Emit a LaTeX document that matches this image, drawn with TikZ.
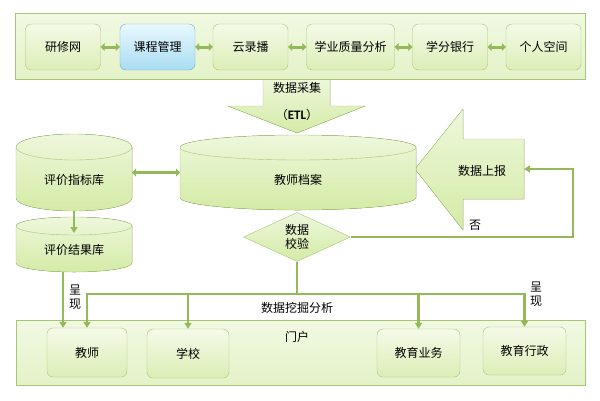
\documentclass[tikz,border=0pt]{standalone}
\usepackage{fontspec}
\newfontfamily\cjk{Noto Sans CJK SC}
\newfontfamily\lat{Carlito}
\usetikzlibrary{shapes.geometric,arrows.meta}

\definecolor{lnk}{HTML}{93B958}
\definecolor{edge}{HTML}{A6C673}
\definecolor{boxt}{HTML}{F4FAE8}
\definecolor{boxb}{HTML}{DCEEB6}
\definecolor{pant}{HTML}{F1F9E2}
\definecolor{panb}{HTML}{E4F2C8}
\definecolor{cylt}{HTML}{EEF7DC}
\definecolor{cylb}{HTML}{D4EBA6}
\definecolor{bluet}{HTML}{E8F8FE}
\definecolor{blueb}{HTML}{A9DDF2}
\definecolor{blueedge}{HTML}{5FB3D8}

\begin{document}
\begin{tikzpicture}[x=1pt,y=-1pt,
	txt/.style={font=\cjk\fontsize{12}{15}\selectfont,inner sep=1pt},
	panel/.style={draw=edge,top color=pant,bottom color=panb},
	box/.style={txt,draw=edge,rounded corners=6pt,top color=boxt,bottom color=boxb,minimum width=75,minimum height=46},
	frame/.style={inner sep=0,outer sep=0},
	blk/.style={draw=edge,top color=cylt,bottom color=cylb},
	link/.style={draw=lnk,line width=2.5pt},
	tip/.style={-{Triangle[length=6pt,width=7pt]}},
	dbl/.style={draw=lnk,line width=3pt,{Triangle[length=4pt,width=8pt]}-{Triangle[length=4pt,width=8pt]}}]
		\useasboundingbox (0,0) rectangle (600,400);
		% data collection arrow
		\filldraw [blk] (263,78) -- (330,78) -- (330,106) -- (365,106) -- (297,133) -- (228,106) -- (263,106) -- cycle;
		\node [txt] (cjtxt) at (297,88) {数据采集};
		\node [txt] (etl) at (297,115) {（{\lat\bfseries\fontsize{13}{15}\selectfont ETL}）};
		% top platforms
		\node [panel,minimum width=570,minimum height=66] (ptop) at (300,46) {};
		\node [box] (yxw) at (63,47) {研修网};
		\node [box,draw=blueedge,top color=bluet,bottom color=blueb] (kcgl) at (157.5,47) {课程管理};
		\node [box] (ylb) at (250.5,47) {云录播};
		\node [box,minimum width=88] (xyzl) at (350.5,47) {学业质量分析};
		\node [box] (xfyh) at (450,47) {学分银行};
		\node [box] (grkj) at (543.5,47) {个人空间};
		\draw [dbl] (yxw) -- (kcgl);
		\draw [dbl] (kcgl) -- (ylb);
		\draw [dbl] (ylb) -- (xyzl);
		\draw [dbl] (xyzl) -- (xfyh);
		\draw [dbl] (xfyh) -- (grkj);
		% report arrow
		\filldraw [blk] (415,169) -- (463,109) -- (463,139) -- (524,139) -- (524,199) -- (463,199) -- (463,230) -- cycle;
		\coordinate (sbtail) at (524,169);
		\node [txt] (sb) at (482,171) {数据上报};
		% databases
		\filldraw [blk] (16,147) -- (16,198) arc [start angle=180,end angle=360,x radius=58pt,y radius=13pt] -- (132,147) arc [start angle=0,end angle=180,x radius=58pt,y radius=13pt] -- cycle;
		\draw [edge] (16,147) arc [start angle=180,end angle=360,x radius=58pt,y radius=13pt];
		\node [frame,minimum width=116,minimum height=77] (pjzb) at (74,172.5) {};
		\node [txt] (pjzbt) at (74,180) {评价指标库};
		\filldraw [blk] (16,226) -- (16,263) arc [start angle=180,end angle=360,x radius=58pt,y radius=9pt] -- (132,226) arc [start angle=0,end angle=180,x radius=58pt,y radius=9pt] -- cycle;
		\draw [edge] (16,226) arc [start angle=180,end angle=360,x radius=58pt,y radius=9pt];
		\node [frame,minimum width=116,minimum height=55] (pjjg) at (74,244.5) {};
		\node [txt] (pjjgt) at (74,250) {评价结果库};
		\filldraw [blk] (180,147.5) -- (180,197.5) arc [start angle=180,end angle=360,x radius=118pt,y radius=12.5pt] -- (416,147.5) arc [start angle=0,end angle=180,x radius=118pt,y radius=12.5pt] -- cycle;
		\draw [edge] (180,147.5) arc [start angle=180,end angle=360,x radius=118pt,y radius=12.5pt];
		\node [frame,minimum width=236,minimum height=75] (jsda) at (298,172.5) {};
		\node [txt] (jsdat) at (298,180) {教师档案};
		\draw [dbl,line width=2.5pt] (pjzb.east) -- (jsda.west);
		\draw [link,tip] (pjzb.south) -- ([yshift=-16pt]pjjg.north);
		% check
		\node [txt,diamond,draw=edge,top color=cylt,bottom color=cylb,minimum width=107,minimum height=43,inner sep=0,align=center] (jy) at (297,237) {数据\\[-1pt]校验};
		\coordinate (fb) at (573,0);
		\draw [link,tip] (jy.east) -- (jy.east -| fb) |- (sbtail);
		\node [txt] (fou) at (475,225) {否};
		% portal
		\node [panel,minimum width=569,minimum height=65] (mh) at (300.5,352.5) {};
		\node [txt] (mhtxt) at (297,337) {门户};
		\node [box,minimum width=80,minimum height=49] (js) at (87,352.5) {教师};
		\node [box,minimum width=82,minimum height=49] (xx) at (188,353.5) {学校};
		\node [box,minimum width=83,minimum height=48] (jyyw) at (418.5,353) {教育业务};
		\node [box,minimum width=83,minimum height=48] (jyxz) at (524.5,351) {教育行政};
		% data mining
		\coordinate (bus) at (297,294);
		\draw [link,tip] (jy.south) -- (bus) -| (js.north);
		\draw [link,tip] (bus) -| (jyxz.north);
		\draw [link,tip] (xx.north |- bus) -- (xx.north);
		\draw [link,tip] (jyyw.north |- bus) -- (jyyw.north);
		\node [txt] (wj) at (297,308) {数据挖掘分析};
		\draw [link,tip] ([xshift=-11pt]pjjg.south) -- ([xshift=-24pt]js.north);
		\node [txt,align=center] (cx1) at (75,297) {呈\\[-1pt]现};
		\node [txt,align=center] (cx2) at (536,294) {呈\\[-1pt]现};
\end{tikzpicture}
\end{document}
